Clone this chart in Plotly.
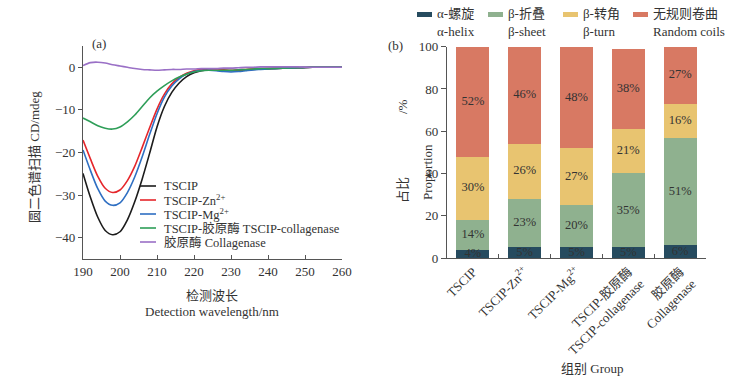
import plotly.graph_objects as go

W, H = 746, 381

# ---------------- Data: CD spectra (panel a) ----------------
wavelength = [190, 192, 194, 196, 198, 200, 202, 204, 206, 208, 210, 212, 214, 216, 218,
              220, 222, 224, 226, 228, 230, 232, 234, 236, 238, 240, 244, 248, 252, 256, 260]
cd_tscip = [-24.9, -30.5, -35.2, -38.3, -39.3, -38.6, -35.8, -31.5, -26.2, -20.2, -14.0, -9.2, -5.9, -3.7, -2.2,
            -1.3, -0.8, -0.6, -0.6, -0.7, -0.8, -0.7, -0.6, -0.5, -0.4, -0.3, -0.2, -0.1, 0.0, 0.0, 0.0]
cd_zn = [-17.1, -21.5, -25.6, -28.4, -29.4, -28.8, -26.6, -23.2, -18.8, -14.2, -9.8, -6.3, -3.9, -2.4, -1.4,
         -0.8, -0.5, -0.4, -0.5, -0.6, -0.7, -0.6, -0.5, -0.4, -0.3, -0.3, -0.2, -0.1, 0.0, 0.0, 0.0]
cd_mg = [-19.4, -24.2, -28.5, -31.4, -32.4, -31.8, -29.4, -25.7, -21.0, -15.8, -10.9, -7.0, -4.4, -2.7, -1.6,
         -1.0, -0.7, -0.7, -0.8, -1.0, -1.1, -1.0, -0.8, -0.6, -0.5, -0.4, -0.2, -0.1, 0.0, 0.0, 0.0]
cd_coll_tscip = [-11.9, -12.8, -13.7, -14.3, -14.5, -14.0, -12.8, -11.2, -9.2, -7.2, -5.6, -4.3, -3.2, -2.3, -1.6,
                 -1.1, -0.8, -0.7, -0.7, -0.7, -0.7, -0.6, -0.5, -0.4, -0.3, -0.3, -0.2, -0.1, 0.0, 0.0, 0.0]
cd_coll = [0.4, 1.1, 1.2, 1.0, 0.6, 0.3, 0.0, -0.3, -0.5, -0.6, -0.7, -0.6, -0.5, -0.5, -0.4,
           -0.4, -0.3, -0.3, -0.3, -0.2, -0.2, -0.1, 0.0, 0.0, 0.1, 0.1, 0.1, 0.1, 0.0, 0.0, 0.0]

line_names = ["TSCIP", "TSCIP-Zn<sup>2+</sup>", "TSCIP-Mg<sup>2+</sup>",
              "TSCIP-胶原酶 TSCIP-collagenase", "胶原酶 Collagenase"]
line_colors = ["#1c1c1c", "#e5262b", "#2f6fc2", "#2e9e58", "#9a70c6"]
line_values = [cd_tscip, cd_zn, cd_mg, cd_coll_tscip, cd_coll]

# ---------------- Data: secondary structure (panel b) ----------------
groups = ["TSCIP", "TSCIP-Zn<sup>2+</sup>", "TSCIP-Mg<sup>2+</sup>",
          "TSCIP-胶原酶<br>TSCIP-collagenase", "胶原酶<br>Collagenase"]
helix = [4, 5, 5, 5, 6]
sheet = [14, 23, 20, 35, 51]
turn = [30, 26, 27, 21, 16]
coils = [52, 46, 48, 38, 27]
struct_names_cn = ["α-螺旋", "β-折叠", "β-转角", "无规则卷曲"]
struct_names_en = ["α-helix", "β-sheet", "β-turn", "Random coils"]
struct_colors = ["#264b5f", "#8fb18f", "#e8c470", "#d87963"]
struct_values = [helix, sheet, turn, coils]

FONT = "'Liberation Serif', 'Times New Roman', 'Noto Sans CJK SC', serif"
TXT = "#333333"
AX = "#555555"


def px(x):
    return x / W


def py(y):
    return 1 - y / H


fig = go.Figure()

for name, vals, col in zip(line_names, line_values, line_colors):
    fig.add_trace(go.Scatter(x=wavelength, y=vals, mode="lines", name=name,
                             line=dict(color=col, width=1.6, shape="spline", smoothing=0.8),
                             xaxis="x", yaxis="y", showlegend=False))

base = [0] * len(groups)
for cn, vals, col in zip(struct_names_cn, struct_values, struct_colors):
    fig.add_trace(go.Bar(x=groups, y=vals, name=cn, marker=dict(color=col, line=dict(width=0)),
                         width=0.64, xaxis="x2", yaxis="y2", showlegend=False))
    mids = [b + v / 2 for b, v in zip(base, vals)]
    fig.add_trace(go.Scatter(x=groups, y=mids, mode="text", text=[f"{v}%" for v in vals],
                             textposition="middle center",
                             textfont=dict(family=FONT, size=12.5, color=TXT),
                             xaxis="x2", yaxis="y2", showlegend=False, hoverinfo="skip"))
    base = [b + v for b, v in zip(base, vals)]

fig.update_layout(
    width=W, height=H, margin=dict(l=0, r=0, t=0, b=0, pad=0, autoexpand=False),
    paper_bgcolor="white", plot_bgcolor="white",
    font=dict(family=FONT, size=13, color=TXT),
    barmode="stack",
    xaxis=dict(domain=[px(83), px(342)], range=[190, 260], tickvals=list(range(190, 261, 10)),
               ticks="inside", ticklen=4, tickcolor=AX, showline=True, linecolor=AX, linewidth=1.3,
               showgrid=False, zeroline=False, anchor="y", automargin=False,
               tickfont=dict(size=13, color=TXT)),
    yaxis=dict(domain=[py(259), py(46)], range=[-45, 5], tickvals=[-40, -30, -20, -10, 0],
               ticks="outside", ticklen=4, tickcolor=AX, showline=True, linecolor=AX, linewidth=1.3,
               showgrid=False, zeroline=False, anchor="x", automargin=False,
               tickfont=dict(size=13, color=TXT)),
    xaxis2=dict(domain=[px(447), px(706)], range=[-0.5, 4.5], type="category",
                tickson="boundaries", ticks="inside", ticklen=4, tickcolor=AX, tickangle=-45,
                showline=True, linecolor=AX, linewidth=1.3, showgrid=False, anchor="y2",
                automargin=False, tickfont=dict(size=13, color=TXT)),
    yaxis2=dict(domain=[py(258), py(46.7)], range=[0, 100], tickvals=[0, 20, 40, 60, 80, 100],
                ticks="outside", ticklen=5, tickcolor=AX, showline=True, linecolor=AX, linewidth=1.3,
                showgrid=False, zeroline=False, anchor="x2", automargin=False,
                tickfont=dict(size=13, color=TXT)),
)

ann = []
shapes = []

# panel labels
ann.append(dict(text="(a)", x=px(90), y=py(44), xanchor="left", yanchor="middle"))
ann.append(dict(text="(b)", x=px(386), y=py(45), xanchor="left", yanchor="middle"))

# panel a axis titles
ann.append(dict(text="圆二色谱扫描 CD/mdeg", x=px(34), y=py(157), textangle=-90,
                xanchor="center", yanchor="middle"))
ann.append(dict(text="检测波长", x=px(212), y=py(295), xanchor="center", yanchor="middle"))
ann.append(dict(text="Detection wavelength/nm", x=px(212), y=py(311), xanchor="center", yanchor="middle"))

# panel a legend
leg_rows = [186, 200, 214, 228, 242]
for name, col, ry in zip(line_names, line_colors, leg_rows):
    shapes.append(dict(type="line", xref="paper", yref="paper", x0=px(140), x1=px(156),
                       y0=py(ry), y1=py(ry), line=dict(color=col, width=1.6)))
    ann.append(dict(text=name, x=px(162), y=py(ry), xanchor="left", yanchor="middle",
                    font=dict(size=12.5, color=TXT)))

# panel b axis titles
ann.append(dict(text="占比", x=px(402), y=py(190), textangle=-90, xanchor="center", yanchor="middle"))
ann.append(dict(text="/%", x=px(402), y=py(107), textangle=-90, xanchor="center", yanchor="middle"))
ann.append(dict(text="Proportion", x=px(428), y=py(172), textangle=-90, xanchor="center", yanchor="middle"))
ann.append(dict(text="组别 Group", x=px(592), y=py(368), xanchor="center", yanchor="middle"))

# panel b legend
rect_x = [417, 488, 563, 633]
for cn, en, col, rx in zip(struct_names_cn, struct_names_en, struct_colors, rect_x):
    shapes.append(dict(type="rect", xref="paper", yref="paper", x0=px(rx), x1=px(rx + 15),
                       y0=py(17), y1=py(12), fillcolor=col, line=dict(width=0)))
    ann.append(dict(text=cn, x=px(rx + 18), y=py(14), xanchor="left", yanchor="middle"))
    ann.append(dict(text=en, x=px(rx + 18), y=py(31), xanchor="left", yanchor="middle"))

for a in ann:
    a.setdefault("xref", "paper")
    a.setdefault("yref", "paper")
    a.setdefault("showarrow", False)
    a.setdefault("font", dict(size=13, color=TXT))

fig.update_layout(annotations=ann, shapes=shapes)

fig.write_html("out.html", config={"displayModeBar": False},
               post_script="document.body.style.margin='0';document.body.style.padding='0';")
